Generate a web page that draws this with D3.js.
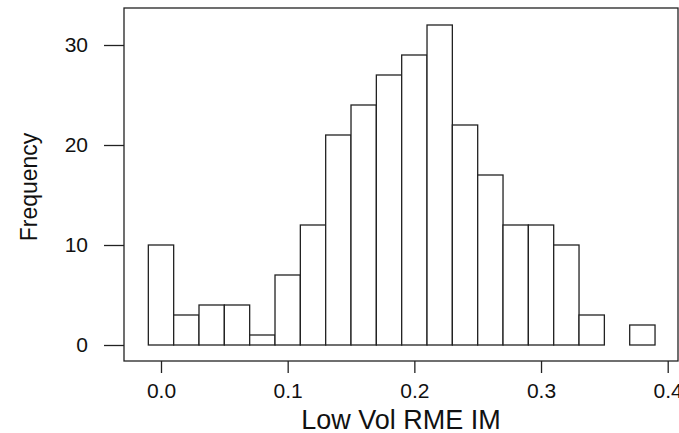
<!DOCTYPE html>
<html><head><meta charset="utf-8">
<script src="https://cdn.jsdelivr.net/npm/d3@7"></script>
<style>body{margin:0;background:#fff}svg{display:block}</style>
</head><body>
<script>
const binStarts = [-0.01,0.01,0.03,0.05,0.07,0.09,0.11,0.13,0.15,0.17,0.19,0.21,0.23,0.25,0.27,0.29,0.31,0.33,0.35,0.37];
const binWidth = 0.02;
const counts = [10,3,4,4,1,7,12,21,24,27,29,32,22,17,12,12,10,3,0,2];
const xTicks = [0.0,0.1,0.2,0.3,0.4];
const yTicks = [0,10,20,30];
const xTitle = "Low Vol RME IM";
const yTitle = "Frequency";

const W=679,H=433;
const svg=d3.select("body").append("svg").attr("width",W).attr("height",H);
const x=d3.scaleLinear().domain([0,0.4]).range([161,667.7]);
const y=d3.scaleLinear().domain([0,30]).range([345,45]);
const col="#222";
const tcol="#111";
const font="'Liberation Sans', Arial, sans-serif";

// bars
svg.append("g").selectAll("rect").data(binStarts.map((s,i)=>({s,c:counts[i]}))).join("rect")
  .attr("x",d=>x(d.s)).attr("width",d=>x(d.s+binWidth)-x(d.s))
  .attr("y",d=>y(d.c)).attr("height",d=>y(0)-y(d.c))
  .attr("fill","#fff").attr("stroke",col).attr("stroke-width",1.3);

// box
svg.append("rect").attr("x",124).attr("y",8).attr("width",554).attr("height",353)
  .attr("fill","none").attr("stroke",col).attr("stroke-width",1.3);

// x axis
const xa=svg.append("g").attr("transform","translate(0,361)")
  .call(d3.axisBottom(x).tickValues(xTicks).tickFormat(d3.format(".1f")).tickSize(12));
xa.select(".domain").remove();
xa.selectAll(".tick text").attr("y",37).attr("dy","0");
// y axis
const ya=svg.append("g").attr("transform","translate(124,0)")
  .call(d3.axisLeft(y).tickValues(yTicks).tickSize(20));
ya.select(".domain").remove();
ya.selectAll(".tick text").attr("x",-36).attr("dy","0.33em");
svg.selectAll(".tick line").attr("stroke",col).attr("stroke-width",1.3);
svg.selectAll(".tick text").attr("fill",tcol).style("font-family",font).style("font-size","21px");

svg.append("text").attr("x",401).attr("y",429).attr("text-anchor","middle")
  .style("font-family",font).style("font-size","27px").attr("fill",tcol).text(xTitle);
svg.append("text").attr("transform","translate(37,187) rotate(-90)").attr("text-anchor","middle")
  .style("font-family",font).style("font-size","23px").attr("fill",tcol).text(yTitle);
</script>
</body></html>
